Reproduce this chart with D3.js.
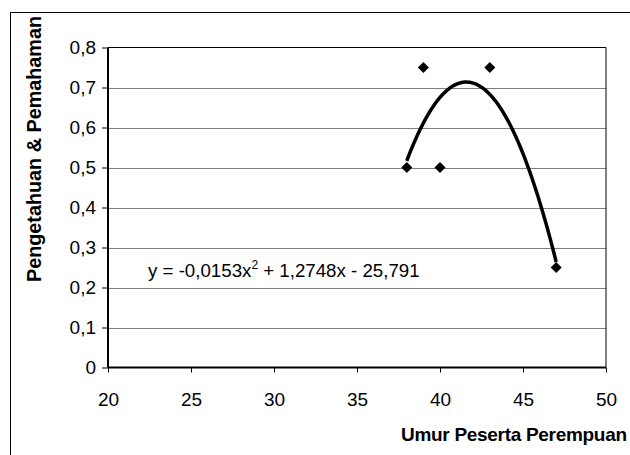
<!DOCTYPE html>
<html><head><meta charset="utf-8">
<script src="https://cdn.jsdelivr.net/npm/d3@7"></script>
<style>
html,body{margin:0;padding:0;background:#fff;}
svg{display:block;font-family:"Liberation Sans",Arial,sans-serif;}
</style></head>
<body>
<svg id="c" width="630" height="455"></svg>
<script>
const ages = [38, 39, 40, 43, 47];
const scores = [0.5, 0.75, 0.5, 0.75, 0.25];
const xTicks = [20, 25, 30, 35, 40, 45, 50];
const yTicks = [0, 0.1, 0.2, 0.3, 0.4, 0.5, 0.6, 0.7, 0.8];
const xTitle = "Umur Peserta Perempuan";
const yTitle = "Pengetahuan & Pemahaman";

const svg = d3.select("#c");
const L = 108, R = 606, T = 47.5, B = 367.5;
const x = d3.scaleLinear().domain([20, 50]).range([L, R]);
const y = d3.scaleLinear().domain([0, 0.8]).range([B, T]);
const fmt = d => String(d).replace(".", ",");

// outer border
svg.append("rect").attr("x", 10.5).attr("y", 12.5).attr("width", 640).attr("height", 460)
  .attr("fill", "none").attr("stroke", "#000").attr("stroke-width", 1);

// gridlines
svg.append("g").selectAll("line").data(yTicks.filter(d => d > 0 && d < 0.8)).join("line")
  .attr("x1", L).attr("x2", R).attr("y1", d => Math.round(y(d)) + 0.5).attr("y2", d => Math.round(y(d)) + 0.5)
  .attr("stroke", "#7f7f7f").attr("stroke-width", 1);

// plot frame top/right
svg.append("path").attr("d", `M${L},${T}H${R}V${B}`).attr("fill", "none").attr("stroke", "#000").attr("stroke-width", 1);

// axes
const xAxis = d3.axisBottom(x).tickValues(xTicks).tickSize(5).tickPadding(20.5).tickFormat(fmt);
const gx = svg.append("g").attr("transform", `translate(0,${B})`).call(xAxis);
const yAxis = d3.axisLeft(y).tickValues(yTicks).tickSize(6).tickPadding(6).tickFormat(fmt);
const gy = svg.append("g").attr("transform", `translate(${L},0)`).call(yAxis);
[gx, gy].forEach(g => {
  g.select(".domain").attr("stroke", "#000").attr("stroke-width", 2);
  g.selectAll(".tick line").attr("stroke", "#000");
  g.selectAll(".tick text").attr("fill", "#000").attr("font-size", 19).attr("font-family", "Liberation Sans, Arial, sans-serif");
});
gx.select(".domain").attr("d", `M${L},0H${R}`);
gy.select(".domain").attr("d", `M0,${B}V${T}`);

// quadratic least-squares trendline from data
function polyfit2(xs, ys) {
  let S = [0,0,0,0,0], Sy = [0,0,0];
  xs.forEach((xv, i) => {
    for (let k = 0; k < 5; k++) S[k] += Math.pow(xv, k);
    for (let k = 0; k < 3; k++) Sy[k] += ys[i] * Math.pow(xv, k);
  });
  const A = [[S[0],S[1],S[2],Sy[0]],[S[1],S[2],S[3],Sy[1]],[S[2],S[3],S[4],Sy[2]]];
  for (let i = 0; i < 3; i++) {
    for (let j = i + 1; j < 3; j++) {
      const f = A[j][i] / A[i][i];
      for (let k = i; k < 4; k++) A[j][k] -= f * A[i][k];
    }
  }
  const c = [0,0,0];
  for (let i = 2; i >= 0; i--) {
    let s = A[i][3];
    for (let k = i + 1; k < 3; k++) s -= A[i][k] * c[k];
    c[i] = s / A[i][i];
  }
  return c;
}
const coef = polyfit2(ages, scores);
const xs = d3.range(d3.min(ages), d3.max(ages) + 0.001, 0.1);
svg.append("path")
  .datum(xs.map(v => [v, coef[0] + coef[1] * v + coef[2] * v * v]))
  .attr("d", d3.line().x(d => x(d[0])).y(d => y(d[1])))
  .attr("fill", "none").attr("stroke", "#000").attr("stroke-width", 3.5);

// markers
svg.append("g").selectAll("path").data(ages.map((a, i) => [a, scores[i]])).join("path")
  .attr("transform", d => `translate(${x(d[0])},${y(d[1])})`)
  .attr("d", "M0,-5.5L5.5,0L0,5.5L-5.5,0Z").attr("fill", "#000");

// equation
const eq = svg.append("text").attr("x", 148).attr("y", 277).attr("font-size", 18.7).attr("fill", "#000");
eq.append("tspan").text("y = -0,0153x");
eq.append("tspan").attr("font-size", 12).attr("dy", -8).text("2");
eq.append("tspan").attr("dy", 8).text(" + 1,2748x - 25,791");

// titles
svg.append("text").attr("x", 401).attr("y", 441)
  .attr("font-weight", "bold").attr("font-size", 19).attr("letter-spacing", -0.3).text(xTitle);
svg.append("text").attr("transform", "translate(40.5,149) rotate(-90)").attr("text-anchor", "middle")
  .attr("font-weight", "bold").attr("font-size", 19.8).text(yTitle);
</script>
</body></html>
